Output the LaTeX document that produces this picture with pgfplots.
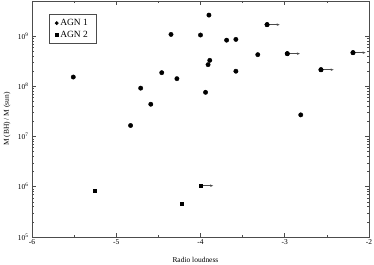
\documentclass[border=0pt]{standalone}
\usepackage{fontspec}
\setmainfont{Liberation Serif}
\usepackage{pgfplots}
\pgfplotsset{compat=1.18}
\usetikzlibrary{arrows.meta}
\begin{document}
\begin{tikzpicture}
\begin{axis}[
  scale only axis,
  width=337bp, height=236bp,
  ymode=log,
  xmin=-6, xmax=-2,
  ymin=1e5, ymax=5e9,
  font=\fontsize{7.5}{9}\selectfont,
  /pgf/number format/assume math mode=true,
  xtick={-6,-5,-4,-3,-2},
  xticklabels={-6,-5,-4,-3,-2},
  minor xtick={-5.5,-4.5,-3.5,-2.5},
  ytick={1e5,1e6,1e7,1e8,1e9},
  yticklabels={10\textsuperscript{5},10\textsuperscript{6},10\textsuperscript{7},10\textsuperscript{8},10\textsuperscript{9}},
  tick align=inside,
  major tick length=4bp,
  minor tick length=2bp,
  tick style={black!70, line width=0.6pt},
  axis line style={black!70, line width=0.8pt},
  xlabel={Radio loudness},
  ylabel={M (BH) / M (sun)},
  xlabel style={at={(axis description cs:0.485,-0.097)}, anchor=center},
  ylabel style={at={(axis description cs:-0.074,0.5)}, anchor=center},
  xticklabel style={yshift=1bp},
  legend style={at={(0.05,0.945)}, anchor=north west, draw=black!70, line width=0.6pt,
    font=\fontsize{9.5}{11}\selectfont, inner xsep=6pt, inner ysep=3pt, row sep=0pt,
    legend cell align=left},
  legend image post style={mark size=1.6pt},
  clip=false,
]
\addplot[only marks, mark=*, mark size=2.2pt, black] coordinates {
(-5.51,1.53e8) (-4.35,1.08e9) (-4.46,1.87e8) (-4.28,1.42e8) (-4.71,9.2e7)
(-4.59,4.4e7) (-4.83,1.66e7) (-3.90,2.62e9) (-3.21,1.69e9) (-4.00,1.05e9)
(-3.69,8.3e8) (-3.58,8.6e8) (-3.32,4.27e8) (-2.97,4.47e8) (-2.19,4.68e8)
(-3.89,3.29e8) (-3.91,2.7e8) (-3.58,2.0e8) (-2.57,2.14e8) (-3.94,7.6e7)
(-2.81,2.7e7)
};
\addlegendentry{AGN 1}
\addplot[only marks, mark=square*, mark size=1.5pt, black] coordinates {
(-5.26,8.3e5) (-4.22,4.6e5) (-4.00,1.05e6)
};
\addlegendentry{AGN 2}
\addplot[black!70, line width=0.5pt, -{Stealth[open,length=3bp,width=2.5bp]}, forget plot] coordinates {(-3.21,1.69e9) (-3.06,1.69e9)};
\addplot[black!70, line width=0.5pt, -{Stealth[open,length=3bp,width=2.5bp]}, forget plot] coordinates {(-2.97,4.47e8) (-2.82,4.47e8)};
\addplot[black!70, line width=0.5pt, -{Stealth[open,length=3bp,width=2.5bp]}, forget plot] coordinates {(-2.19,4.68e8) (-2.04,4.68e8)};
\addplot[black!70, line width=0.5pt, -{Stealth[open,length=3bp,width=2.5bp]}, forget plot] coordinates {(-2.57,2.14e8) (-2.42,2.14e8)};
\addplot[black!70, line width=0.5pt, -{Stealth[open,length=3bp,width=2.5bp]}, forget plot] coordinates {(-4.00,1.05e6) (-3.85,1.05e6)};
\addplot[only marks, mark=*, mark size=2.2pt, black, forget plot] coordinates {
(-3.21,1.69e9) (-2.97,4.47e8) (-2.19,4.68e8) (-2.57,2.14e8)};
\addplot[only marks, mark=square*, mark size=1.5pt, black, forget plot] coordinates {(-4.00,1.05e6)};
\end{axis}
\pgfresetboundingbox
\path[use as bounding box] (-32bp,-28bp) rectangle (342bp,237bp);
\end{tikzpicture}
\end{document}
